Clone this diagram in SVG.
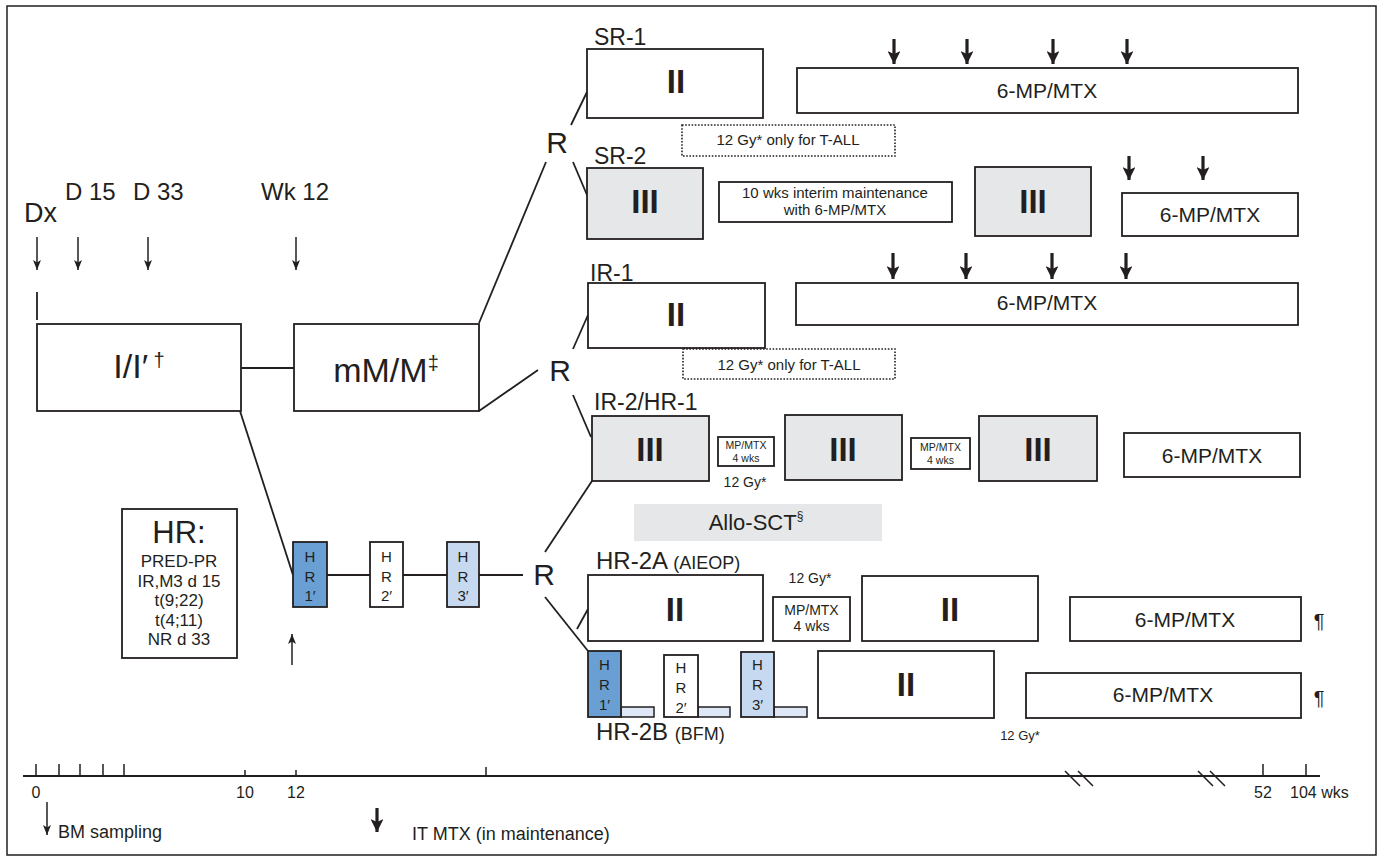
<svg xmlns="http://www.w3.org/2000/svg" width="1382" height="861" viewBox="0 0 1382 861">
<defs>
<style>
.b{fill:#fff;stroke:#231f20;stroke-width:1.8}
.g{fill:#e6e7e8;stroke:#231f20;stroke-width:1.8}
.dot{fill:#fff;stroke:#231f20;stroke-width:1.6;stroke-dasharray:1.6 1.6}
.ln{stroke:#231f20;stroke-width:1.8;fill:none}
.thin{stroke:#231f20;stroke-width:1.5;fill:none}
.thick{stroke:#231f20;stroke-width:3.2;fill:none}
text{font-family:"Liberation Sans",Arial,Helvetica,sans-serif;fill:#231f20}
.rom{font-size:33px;font-weight:bold;text-anchor:middle}
.lab{font-size:23px}
.mp{font-size:21px;text-anchor:middle}
.sm{font-size:15px;text-anchor:middle}
.hr{font-size:15px;text-anchor:middle}
.R{font-size:30px;text-anchor:middle}
.ax{font-size:16px;text-anchor:middle}
.blue{fill:#6a9fd3;stroke:#231f20;stroke-width:1.8}
.lblue{fill:#c6d9f0;stroke:#231f20;stroke-width:1.8}
.pale{fill:#dde7f5;stroke:#231f20;stroke-width:1.5}
</style>
<marker id="ah" viewBox="0 -5 10 10" refX="10" refY="0" markerUnits="userSpaceOnUse" markerWidth="10" markerHeight="10" orient="auto"><path d="M0,-4 L10,0 L0,4 L2.5,0 z" fill="#231f20"/></marker>
<marker id="AH" viewBox="0 -6 13 12" refX="13" refY="0" markerUnits="userSpaceOnUse" markerWidth="13" markerHeight="12" orient="auto"><path d="M0,-6.5 L13,0 L0,6.5 L3,0 z" fill="#231f20"/></marker>
</defs>
<rect x="0" y="0" width="1382" height="861" fill="#fff"/>
<rect x="7" y="6" width="1369" height="849" fill="none" stroke="#231f20" stroke-width="1.5"/>

<g id="time-labels">
<text x="24" y="222" font-size="27">Dx</text>
<text x="65" y="200" font-size="24">D 15</text>
<text x="133" y="200" font-size="24">D 33</text>
<text x="261" y="200" font-size="24">Wk 12</text>
</g>

<g id="connectors">
<line class="thin" x1="37" y1="237" x2="37" y2="270" marker-end="url(#ah)"/>
<line class="thin" x1="78" y1="237" x2="78" y2="270" marker-end="url(#ah)"/>
<line class="thin" x1="148" y1="237" x2="148" y2="270" marker-end="url(#ah)"/>
<line class="thin" x1="296" y1="237" x2="296" y2="270" marker-end="url(#ah)"/>
<line class="ln" x1="37" y1="292" x2="37" y2="320"/>
<line class="ln" x1="241" y1="368" x2="294" y2="368"/>
<line class="ln" x1="240" y1="411" x2="293" y2="575"/>
<line class="ln" x1="327" y1="575" x2="370" y2="575"/>
<line class="ln" x1="403" y1="575" x2="447" y2="575"/>
<line class="ln" x1="479" y1="575" x2="523" y2="575"/>
<line class="thin" x1="292" y1="665" x2="292" y2="634" marker-end="url(#ah)"/>
<line class="ln" x1="479" y1="323" x2="546" y2="162"/>
<line class="ln" x1="571" y1="125" x2="587" y2="92"/>
<line class="ln" x1="573" y1="162" x2="587" y2="195"/>
<line class="ln" x1="479" y1="411" x2="538" y2="370"/>
<line class="ln" x1="573" y1="349" x2="588" y2="315"/>
<line class="ln" x1="573" y1="395" x2="591" y2="437"/>
<line class="ln" x1="545" y1="552" x2="592" y2="481"/>
<line class="ln" x1="545" y1="597" x2="588" y2="651"/>
<line class="ln" x1="577" y1="629" x2="588" y2="609"/>
<line class="thick" x1="894" y1="39" x2="894" y2="64" marker-end="url(#AH)"/>
<line class="thick" x1="967" y1="39" x2="967" y2="64" marker-end="url(#AH)"/>
<line class="thick" x1="1053" y1="39" x2="1053" y2="64" marker-end="url(#AH)"/>
<line class="thick" x1="1127" y1="39" x2="1127" y2="64" marker-end="url(#AH)"/>
<line class="thick" x1="1129" y1="156" x2="1129" y2="180" marker-end="url(#AH)"/>
<line class="thick" x1="1203" y1="156" x2="1203" y2="180" marker-end="url(#AH)"/>
<line class="thick" x1="893" y1="253" x2="893" y2="279" marker-end="url(#AH)"/>
<line class="thick" x1="966" y1="253" x2="966" y2="279" marker-end="url(#AH)"/>
<line class="thick" x1="1052" y1="253" x2="1052" y2="279" marker-end="url(#AH)"/>
<line class="thick" x1="1126" y1="253" x2="1126" y2="279" marker-end="url(#AH)"/>
</g>

<g id="induction">
<rect class="b" x="37" y="324" width="204" height="87"/>
<text x="139" y="378" font-size="34" text-anchor="middle">I/I′<tspan font-size="20" dy="-11"> †</tspan></text>
</g>
<g id="consolidation">
<rect class="b" x="294" y="324" width="185" height="87"/>
<text x="386" y="382" font-size="34" text-anchor="middle">mM/M<tspan font-size="20" dy="-12">‡</tspan></text>
</g>

<g id="hr-criteria">
<rect class="b" x="122" y="509" width="115" height="149"/>
<text x="179" y="543" font-size="31" text-anchor="middle">HR:</text>
<text x="179" y="567" font-size="17" text-anchor="middle">PRED-PR</text>
<text x="179" y="587" font-size="17" text-anchor="middle">IR,M3 d 15</text>
<text x="179" y="606" font-size="17" text-anchor="middle">t(9;22)</text>
<text x="179" y="626" font-size="17" text-anchor="middle">t(4;11)</text>
<text x="179" y="645" font-size="17" text-anchor="middle">NR d 33</text>
</g>

<g id="hr-blocks">
<rect class="blue" x="293" y="542" width="34" height="65"/>
<text class="hr" x="310" y="562">H</text><text class="hr" x="310" y="582">R</text><text class="hr" x="310" y="601">1′</text>
<rect class="b" x="370" y="542" width="33" height="65"/>
<text class="hr" x="386.5" y="562">H</text><text class="hr" x="386.5" y="582">R</text><text class="hr" x="386.5" y="601">2′</text>
<rect class="lblue" x="447" y="542" width="32" height="65"/>
<text class="hr" x="463" y="562">H</text><text class="hr" x="463" y="582">R</text><text class="hr" x="463" y="601">3′</text>
</g>

<g id="R-nodes">
<text class="R" x="557" y="153">R</text>
<text class="R" x="560" y="381">R</text>
<text class="R" x="544" y="585">R</text>
</g>

<g id="SR-1">
<text class="lab" x="594" y="45">SR-1</text>
<rect class="b" x="587" y="49" width="176" height="69"/>
<text class="rom" x="676" y="93">II</text>
<rect class="dot" x="682" y="125" width="213" height="31"/>
<text class="sm" x="788" y="145">12 Gy* only for T-ALL</text>
<rect class="b" x="797" y="68" width="501" height="45"/>
<text class="mp" x="1047" y="98">6-MP/MTX</text>
</g>

<g id="SR-2">
<text class="lab" x="594" y="164">SR-2</text>
<rect class="g" x="587" y="168" width="116" height="71"/>
<text class="rom" x="645" y="213">III</text>
<rect class="b" x="719" y="182" width="233" height="40"/>
<text class="sm" x="835" y="198">10 wks interim maintenance</text>
<text class="sm" x="835" y="215">with 6-MP/MTX</text>
<rect class="g" x="975" y="167" width="116" height="69"/>
<text class="rom" x="1033" y="213">III</text>
<rect class="b" x="1122" y="193" width="176" height="43"/>
<text class="mp" x="1210" y="222">6-MP/MTX</text>
</g>

<g id="IR-1">
<text class="lab" x="590" y="281">IR-1</text>
<rect class="b" x="588" y="283" width="177" height="65"/>
<text class="rom" x="676" y="326">II</text>
<rect class="b" x="796" y="283" width="502" height="42"/>
<text class="mp" x="1047" y="310">6-MP/MTX</text>
<rect class="dot" x="683" y="349" width="212" height="30"/>
<text class="sm" x="789" y="370">12 Gy* only for T-ALL</text>
</g>

<g id="IR-2-HR-1">
<text class="lab" x="594" y="410">IR-2/HR-1</text>
<rect class="g" x="592" y="416" width="117" height="65"/>
<text class="rom" x="650" y="461">III</text>
<rect class="b" x="718" y="437" width="56" height="29"/>
<text x="746" y="449" font-size="10.5" text-anchor="middle">MP/MTX</text>
<text x="746" y="462" font-size="10.5" text-anchor="middle">4 wks</text>
<text x="745" y="487" font-size="14" text-anchor="middle">12 Gy*</text>
<rect class="g" x="785" y="415" width="117" height="65"/>
<text class="rom" x="843" y="461">III</text>
<rect class="b" x="911" y="438" width="59" height="31"/>
<text x="940.5" y="451" font-size="10.5" text-anchor="middle">MP/MTX</text>
<text x="940.5" y="464" font-size="10.5" text-anchor="middle">4 wks</text>
<rect class="g" x="979" y="416" width="118" height="65"/>
<text class="rom" x="1038" y="461">III</text>
<rect class="b" x="1124" y="433" width="176" height="44"/>
<text class="mp" x="1212" y="463">6-MP/MTX</text>
</g>

<g id="allo-sct">
<rect x="634" y="504" width="248" height="37" fill="#e6e7e8"/>
<text x="756" y="530" font-size="22" text-anchor="middle">Allo-SCT<tspan font-size="12" dy="-10">§</tspan></text>
</g>

<g id="HR-2A">
<text x="596" y="569" font-size="24">HR-2A <tspan font-size="18">(AIEOP)</tspan></text>
<rect class="b" x="588" y="575" width="175" height="66"/>
<text class="rom" x="675" y="621">II</text>
<text x="810" y="583" font-size="14" text-anchor="middle">12 Gy*</text>
<rect class="b" x="773" y="597" width="77" height="44"/>
<text x="811.5" y="615" font-size="14" text-anchor="middle">MP/MTX</text>
<text x="811.5" y="631" font-size="14" text-anchor="middle">4 wks</text>
<rect class="b" x="862" y="576" width="176" height="65"/>
<text class="rom" x="950" y="621">II</text>
<rect class="b" x="1070" y="597" width="231" height="44"/>
<text class="mp" x="1185" y="627">6-MP/MTX</text>
<text x="1319" y="628" font-size="20" text-anchor="middle">¶</text>
</g>

<g id="HR-2B">
<rect class="pale" x="621" y="707" width="33" height="10"/>
<rect class="blue" x="588" y="651" width="33" height="66"/>
<text class="hr" x="604.5" y="670">H</text><text class="hr" x="604.5" y="690">R</text><text class="hr" x="604.5" y="710">1′</text>
<rect class="pale" x="698" y="707" width="32" height="10"/>
<rect class="b" x="664" y="655" width="34" height="62"/>
<text class="hr" x="681" y="673">H</text><text class="hr" x="681" y="693">R</text><text class="hr" x="681" y="713">2′</text>
<rect class="pale" x="774" y="707" width="33" height="10"/>
<rect class="lblue" x="741" y="652" width="33" height="65"/>
<text class="hr" x="757.5" y="670">H</text><text class="hr" x="757.5" y="690">R</text><text class="hr" x="757.5" y="710">3′</text>
<rect class="b" x="818" y="651" width="176" height="67"/>
<text class="rom" x="906" y="696">II</text>
<rect class="b" x="1026" y="673" width="275" height="45"/>
<text class="mp" x="1163" y="702">6-MP/MTX</text>
<text x="1319" y="705" font-size="20" text-anchor="middle">¶</text>
<text x="596" y="740" font-size="24">HR-2B <tspan font-size="18">(BFM)</tspan></text>
<text x="1020" y="740" font-size="13" text-anchor="middle">12 Gy*</text>
</g>

<g id="axis">
<line x1="23" y1="776" x2="1320" y2="776" stroke="#231f20" stroke-width="2"/>
<path class="thin" d="M36,764V776M59,764V776M80,764V776M103,764V776M124,764V776M245,770V776M296,770V776M486,767V776M1263,764V776M1306,764V776"/>
<path class="thin" d="M1065,771L1080,786M1078,771L1093,786M1198,771L1213,786M1210,771L1225,786"/>
<text class="ax" x="36" y="798">0</text>
<text class="ax" x="245" y="798">10</text>
<text class="ax" x="296" y="798">12</text>
<text class="ax" x="1263" y="798">52</text>
<text x="1290" y="798" font-size="16">104 wks</text>
</g>

<g id="legend">
<line class="thin" x1="47" y1="802" x2="47" y2="835" marker-end="url(#ah)"/>
<text x="58" y="838" font-size="18">BM sampling</text>
<line class="thick" x1="377" y1="808" x2="377" y2="832" marker-end="url(#AH)"/>
<text x="412" y="840" font-size="18">IT MTX (in maintenance)</text>
</g>
</svg>
